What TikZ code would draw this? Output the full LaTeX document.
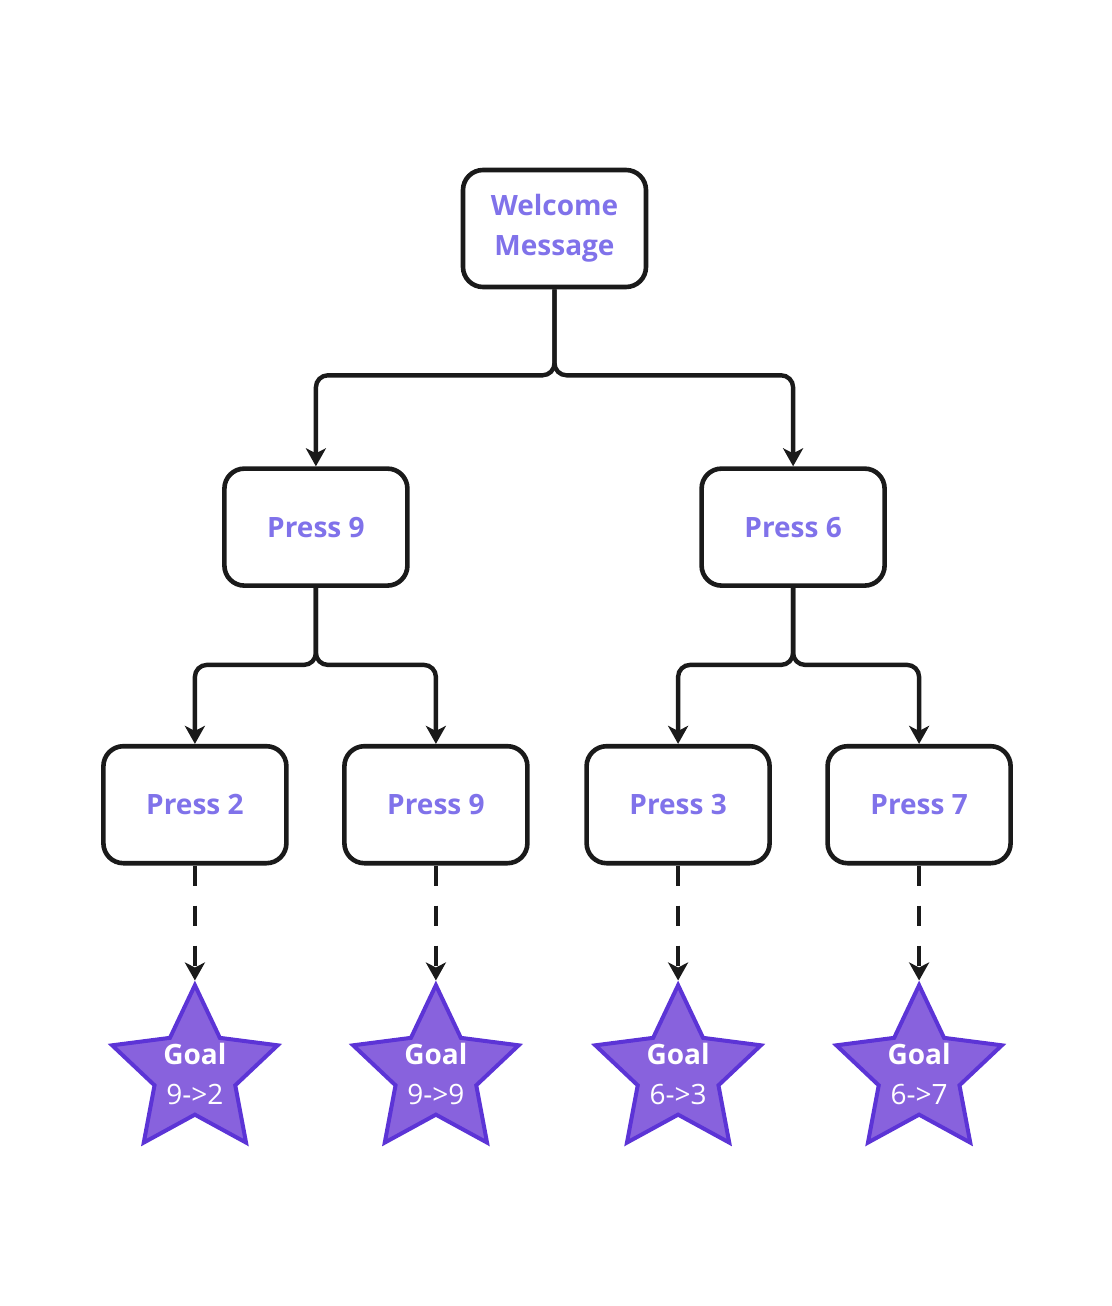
\documentclass[tikz,border=0pt]{standalone}
\usepackage{fontspec}
\setmainfont{Open Sans}
\usepackage{xcolor}
\usetikzlibrary{shapes.geometric, positioning, arrows.meta}
\definecolor{labelpurple}{RGB}{128,114,234}
\definecolor{goalfill}{RGB}{136,98,221}
\definecolor{goaledge}{RGB}{92,52,214}
\definecolor{inkblack}{RGB}{26,26,26}
\tikzstyle{press} = [rectangle, rounded corners=10pt, minimum width=91.5pt, minimum height=58.5pt, text centered, align=center, draw=inkblack, line width=2.3pt, text=labelpurple, font=\fontsize{14}{20}\selectfont\bfseries]
\tikzstyle{goal} = [star, star points=5, star point ratio=2.05, minimum size=87pt, inner sep=0pt, fill=goalfill, draw=goaledge, line width=2pt]
\tikzstyle{goaltext} = [text=white, align=center, font=\fontsize{14}{20}\selectfont, yshift=-1pt]
\tikzstyle{link} = [-{Stealth[length=9pt,width=10pt,inset=2.5pt]}, draw=inkblack, line width=2.2pt, rounded corners=6pt]
\tikzstyle{dashlink} = [link, dash pattern=on 10pt off 10pt]

\begin{document}
\begin{tikzpicture}
		\useasboundingbox (0,0) rectangle (556pt,-653pt);
		% top of the tree
		\node (Welcome)[press] at (277.25pt,-114.25pt) {Welcome\\Message};
		\node (PressNine)[press, below left = 88.5pt and 25.5pt of Welcome]{Press 9};
		\node (PressSix)[press, below right = 88.5pt and 25.5pt of Welcome]{Press 6};
		% second row
		\node (PressTwo)[press, below = 78pt of PressNine, xshift=-60.5pt]{Press 2};
		\node (PressNineB)[press, below = 78pt of PressNine, xshift=60pt]{Press 9};
		\node (PressThree)[press, below = 78pt of PressSix, xshift=-57.5pt]{Press 3};
		\node (PressSeven)[press, below = 78pt of PressSix, xshift=63pt]{Press 7};
		% goals
		\node (GoalTwo)[goal, below = 57.5pt of PressTwo, label={[goaltext]center:{\textbf{Goal}\\9->2}}]{};
		\node (GoalNine)[goal, below = 57.5pt of PressNineB, label={[goaltext]center:{\textbf{Goal}\\9->9}}]{};
		\node (GoalThree)[goal, below = 57.5pt of PressThree, label={[goaltext]center:{\textbf{Goal}\\6->3}}]{};
		\node (GoalSeven)[goal, below = 57.5pt of PressSeven, label={[goaltext]center:{\textbf{Goal}\\6->7}}]{};
		% connectors
		\draw [link] (Welcome.south) -- ++(0,-43pt) -| (PressNine.north);
		\draw [link] (Welcome.south) -- ++(0,-43pt) -| (PressSix.north);
		\draw [link] (PressNine.south) -- ++(0,-38.5pt) -| (PressTwo.north);
		\draw [link] (PressNine.south) -- ++(0,-38.5pt) -| (PressNineB.north);
		\draw [link] (PressSix.south) -- ++(0,-38.5pt) -| (PressThree.north);
		\draw [link] (PressSix.south) -- ++(0,-38.5pt) -| (PressSeven.north);
		\draw [dashlink] (PressTwo.south) -- (GoalTwo.north);
		\draw [dashlink] (PressNineB.south) -- (GoalNine.north);
		\draw [dashlink] (PressThree.south) -- (GoalThree.north);
		\draw [dashlink] (PressSeven.south) -- (GoalSeven.north);
	\end{tikzpicture}
\end{document}
